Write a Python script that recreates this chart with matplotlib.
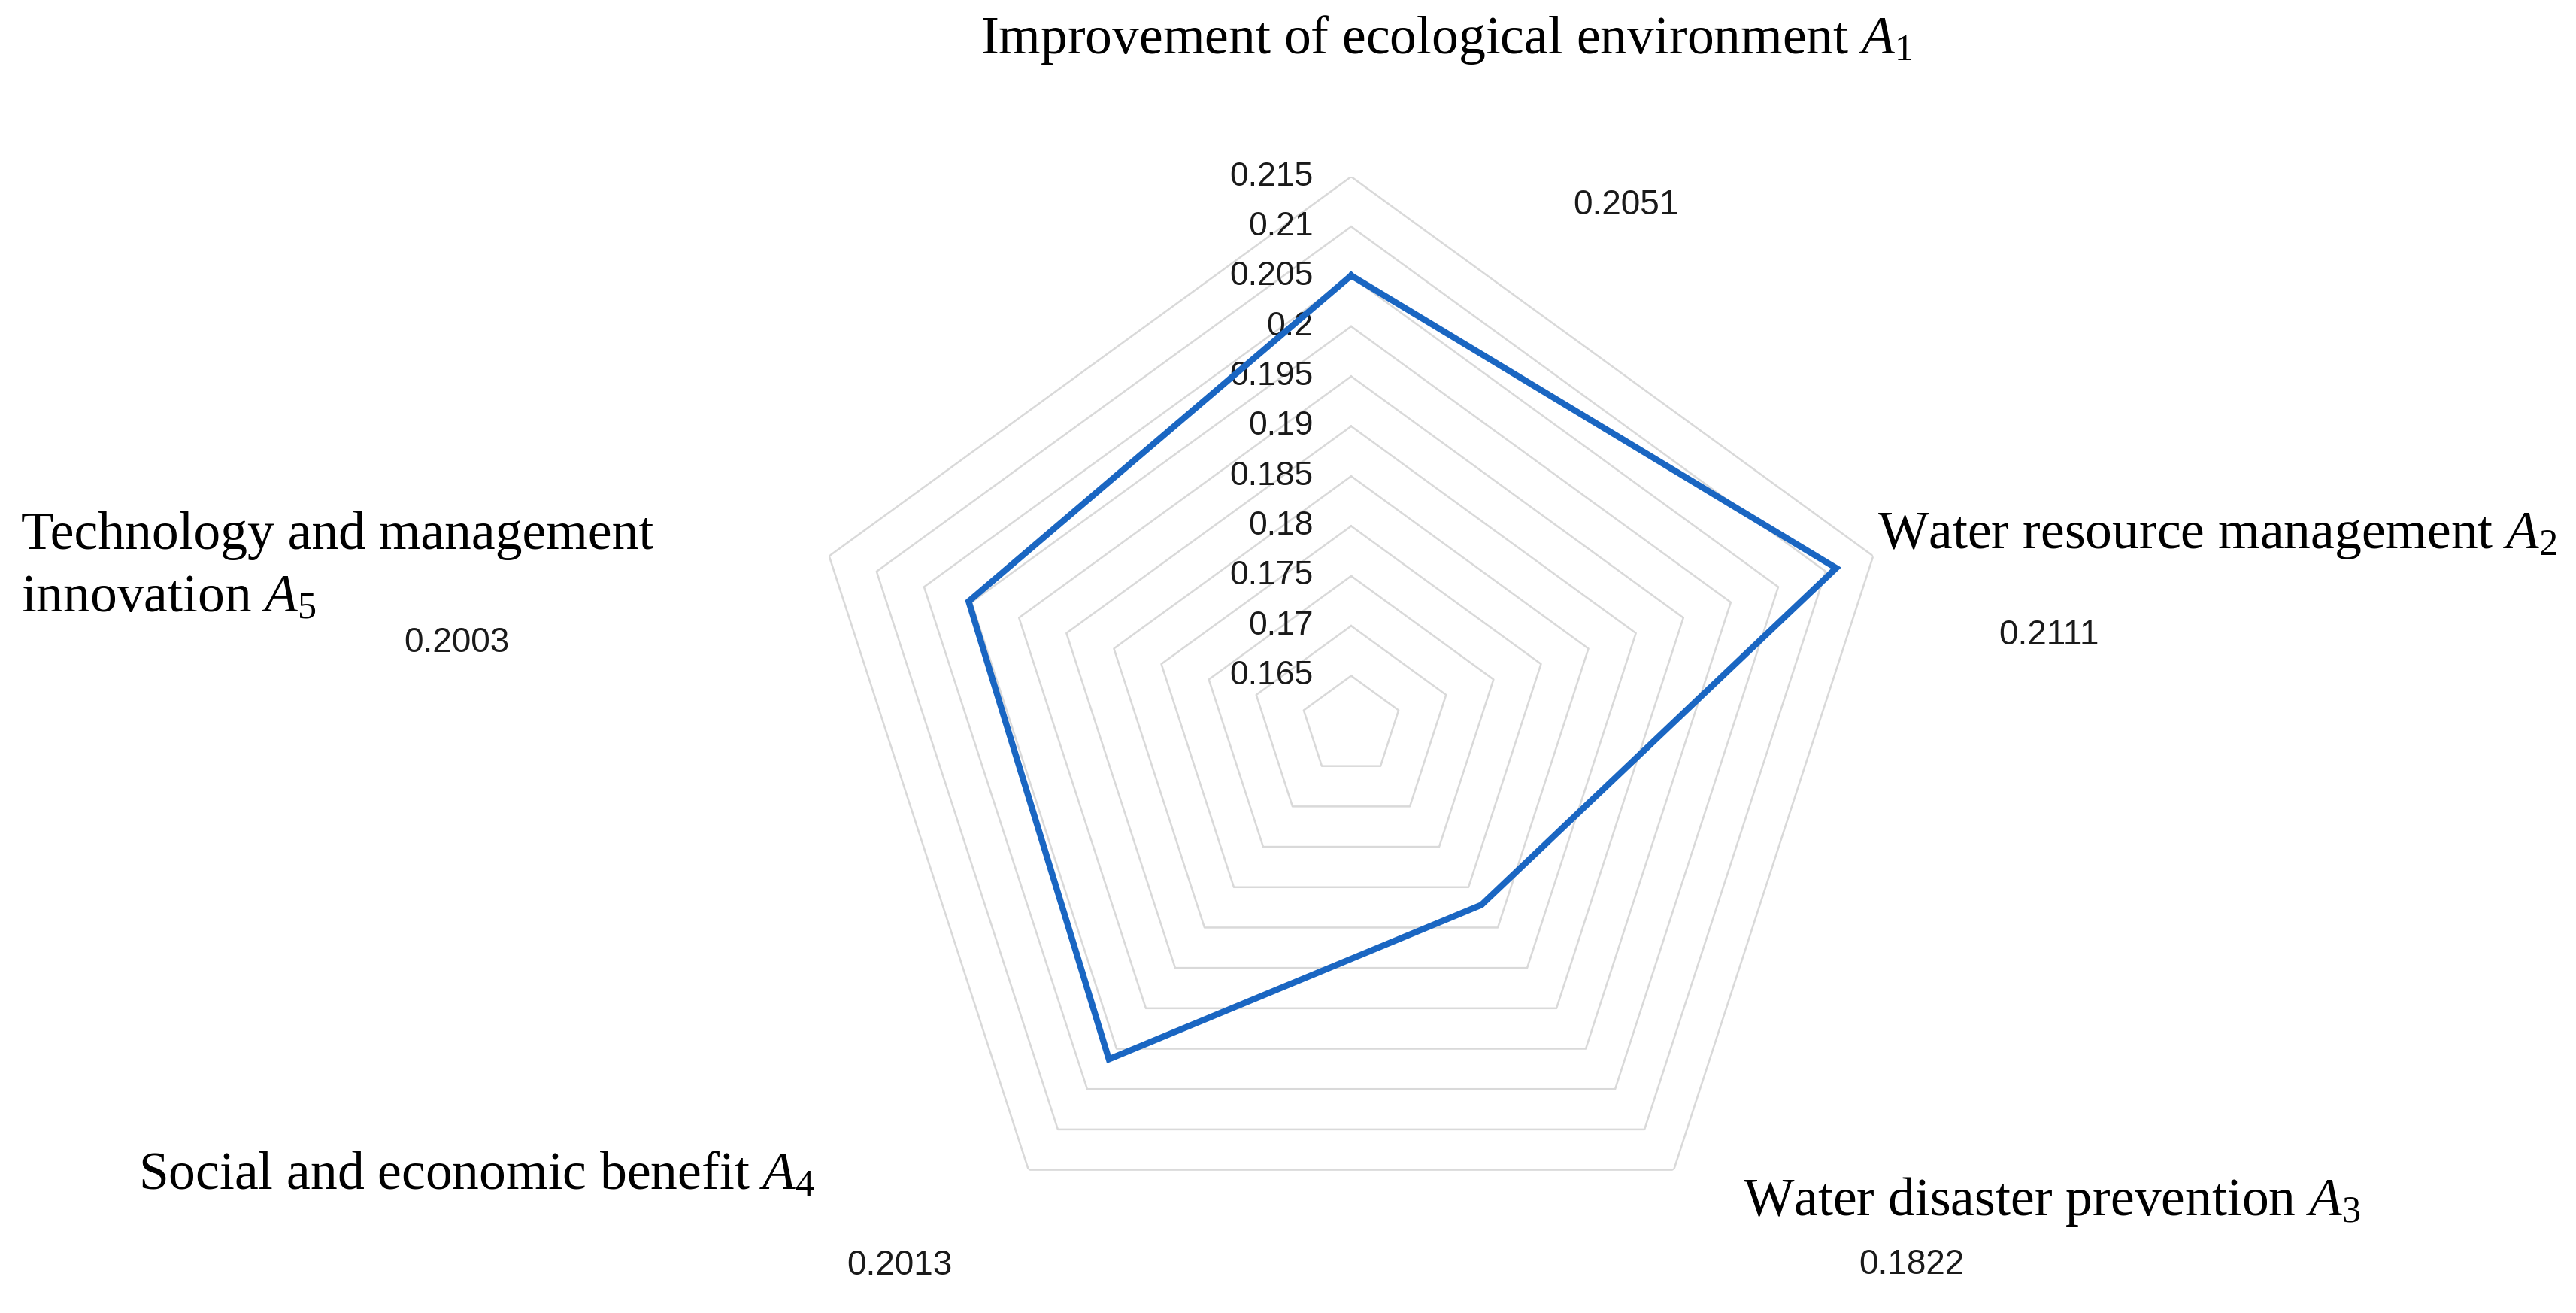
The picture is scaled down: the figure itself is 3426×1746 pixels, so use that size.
import matplotlib
matplotlib.use("Agg")
import matplotlib.pyplot as plt
import numpy as np

# indicator weights (radar)
categories = ["Improvement of ecological environment $A_1$",
              "Water resource management $A_2$",
              "Water disaster prevention $A_3$",
              "Social and economic benefit $A_4$",
              "Technology and management innovation $A_5$"]
weights = [0.2051, 0.2111, 0.1822, 0.2013, 0.2003]
weight_labels = ["0.2051", "0.2111", "0.1822", "0.2013", "0.2003"]
ring_values = [0.165, 0.17, 0.175, 0.18, 0.185, 0.19, 0.195, 0.2, 0.205, 0.21, 0.215]
ring_labels = ["0.165", "0.17", "0.175", "0.18", "0.185", "0.19", "0.195", "0.2", "0.205", "0.21", "0.215"]
r_min = 0.16
r_max = 0.215

plt.rcParams["mathtext.fontset"] = "custom"
plt.rcParams["mathtext.rm"] = "Liberation Serif"
plt.rcParams["mathtext.it"] = "Liberation Serif:italic"

W, H = 3426, 1746
fig = plt.figure(figsize=(W / 100, H / 100), dpi=100)

# polar axes placed so the pentagon centre / radius match the reference
cx, cy, R = 1797, 965, 730
ax = fig.add_axes([(cx - R) / W, (H - cy - R) / H, 2 * R / W, 2 * R / H], projection="polar")
ax.set_theta_zero_location("N")
ax.set_theta_direction(-1)
ax.set_ylim(r_min, r_max)
ax.grid(False)
ax.set_xticks([])
ax.set_yticks([])
ax.spines["polar"].set_visible(False)
ax.patch.set_visible(False)

n = len(weights)
theta = np.linspace(0, 2 * np.pi, n, endpoint=False)
theta_c = np.append(theta, theta[0])

# pentagon grid rings
for v in ring_values:
    ax.plot(theta_c, [v] * (n + 1), color="#d9d9d9", lw=1.8, zorder=1)

# ring labels along the vertical axis
for v, lab in zip(ring_values, ring_labels):
    ax.annotate(lab, xy=(0, v), xytext=(-36.5, 0), textcoords="offset points",
                ha="right", va="center", fontsize=32, family="Liberation Sans", color="#1a1a1a")

# data line
vals = weights + weights[:1]
ax.plot(theta_c, vals, color="#1a66c2", lw=6, solid_joinstyle="miter", zorder=3)

# data value labels (manually placed like the source)
val_pos = [(2162, 273), (2725, 845), (2542, 1682), (1196, 1683), (607, 855)]
for lab, (px, py) in zip(weight_labels, val_pos):
    fig.text(px / W, 1 - py / H, lab, ha="center", va="center", fontsize=33,
             family="Liberation Sans", color="#1a1a1a")

# category labels
cat_kw = dict(fontsize=51.5, family="Liberation Serif", color="black", va="baseline")
fig.text(1924 / W, 1 - 71 / H, categories[0], ha="center", **cat_kw)
fig.text(2497 / W, 1 - 729 / H, categories[1], ha="left", **cat_kw)
fig.text(2318 / W, 1 - 1616 / H, categories[2], ha="left", **cat_kw)
fig.text(184 / W, 1 - 1581 / H, categories[3], ha="left", **cat_kw)
line1, line2 = categories[4].split(" innovation ")
fig.text(28 / W, 1 - 730 / H, line1, ha="left", **cat_kw)
fig.text(28 / W, 1 - 814 / H, "innovation " + line2, ha="left", **cat_kw)

fig.savefig("out.png", dpi=100, facecolor="white")
